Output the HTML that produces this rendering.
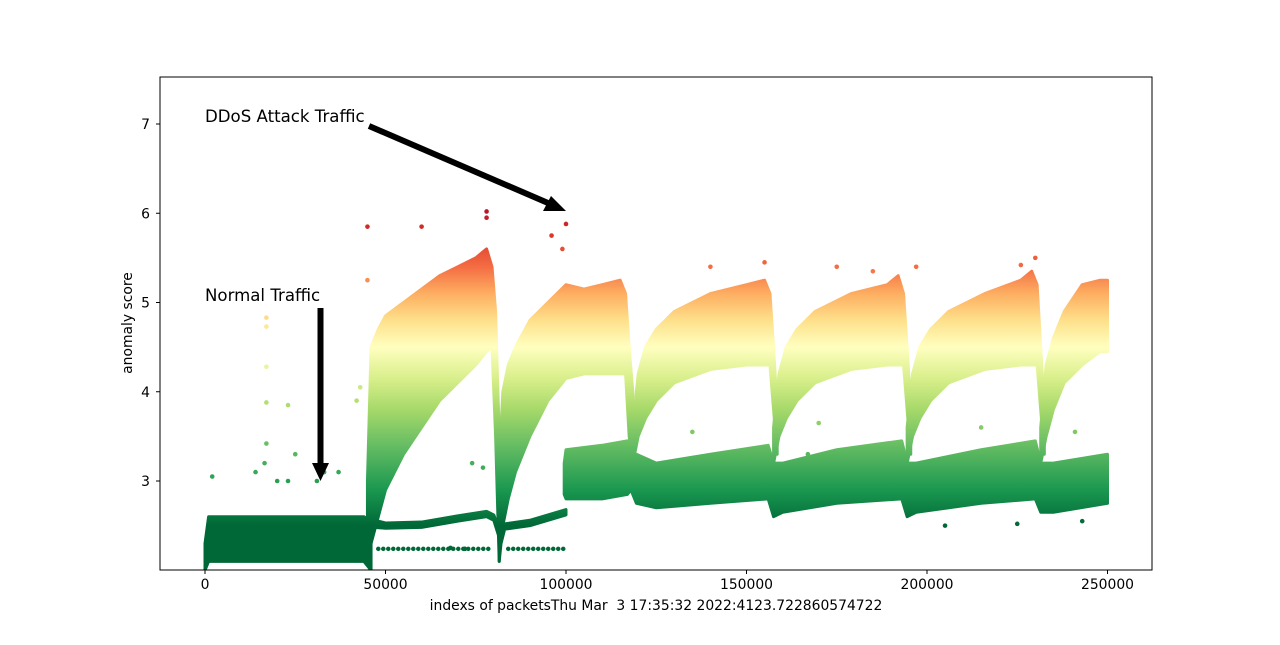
<!DOCTYPE html>
<html><head><meta charset="utf-8">
<style>
html,body{margin:0;padding:0;background:#fff;}
svg text{font-family:"DejaVu Sans","Liberation Sans",sans-serif;}
</style></head>
<body>
<svg id="chart" width="1280" height="640" xmlns="http://www.w3.org/2000/svg">
<defs>
<linearGradient id="cmap" gradientUnits="userSpaceOnUse" x1="0" x2="0" y1="0" y2="0"></linearGradient>
<clipPath id="plotclip"><rect x="160" y="77" width="992" height="493"/></clipPath>
</defs>
<g id="marks" clip-path="url(#plotclip)"></g>
<rect x="160" y="77" width="992" height="493" fill="none" stroke="#000" stroke-width="1"/>
<g id="axes"></g>
<text x="205" y="122" font-size="16.6">DDoS Attack Traffic</text>
<line x1="369" y1="126" x2="548" y2="203" stroke="#000" stroke-width="6"/>
<polygon points="566,211 543,211 551,196" fill="#000"/>
<text x="205" y="301" font-size="16.6">Normal Traffic</text>
<line x1="320.5" y1="308" x2="320.5" y2="465" stroke="#000" stroke-width="6"/>
<polygon points="312,463 329,463 320.5,481" fill="#000"/>
<text x="132" y="323" font-size="13.9" text-anchor="middle" transform="rotate(-90 132 323)">anomaly score</text>
<text x="656" y="610" font-size="13.9" text-anchor="middle" style="white-space:pre" xml:space="preserve">indexs of packetsThu Mar  3 17:35:32 2022:4123.722860574722</text>
</svg>
<script>
const xTicks=[0,50000,100000,150000,200000,250000];
const yTicks=[3,4,5,6,7];
const normalX=[0,1000,5000,20000,44000,46000];
const normalHi=[2.3,2.6,2.6,2.6,2.6,2.55];
const normalLo=[2.0,2.1,2.1,2.1,2.1,2.0];
const att1X=[45000,46000,48000,50000,55000,60000,65000,70000,75000,78000,79500,80500,81500];
const att1Hi=[3.0,4.5,4.7,4.85,5.0,5.15,5.3,5.4,5.5,5.6,5.4,4.9,3.5];
const att1Lo=[2.1,2.3,2.6,2.9,3.3,3.6,3.9,4.1,4.3,4.45,4.5,3.5,2.1];
const att2X=[81500,82500,84000,86000,90000,95000,100000,105000,110000,115000,116500,117500,118500];
const att2Hi=[3.2,4.0,4.3,4.5,4.8,5.0,5.2,5.15,5.2,5.25,5.1,4.5,4.0];
const att2Lo=[2.1,2.5,2.8,3.1,3.5,3.9,4.15,4.2,4.2,4.2,4.2,3.5,3.2];
const att3X=[118500,120000,122000,125000,130000,140000,150000,155000,156500,157500,158500];
const att3Hi=[3.6,4.2,4.5,4.7,4.9,5.1,5.2,5.25,5.1,4.5,3.8];
const att3Lo=[3.2,3.5,3.7,3.9,4.1,4.25,4.3,4.3,4.3,3.8,3.3];
const att4X=[157500,159000,161000,164000,169000,179000,189000,192000,193500,194500,195500];
const att4Hi=[3.6,4.2,4.5,4.7,4.9,5.1,5.2,5.3,5.1,4.5,3.8];
const att4Lo=[3.2,3.5,3.7,3.9,4.1,4.25,4.3,4.3,4.3,3.8,3.3];
const att5X=[194500,196000,198000,201000,206000,216000,226000,229000,230500,231500,232500];
const att5Hi=[3.6,4.2,4.5,4.7,4.9,5.1,5.25,5.35,5.2,4.5,3.8];
const att5Lo=[3.2,3.5,3.7,3.9,4.1,4.25,4.3,4.3,4.3,3.8,3.3];
const att6X=[231500,233000,235000,238000,243000,248000,250000];
const att6Hi=[3.6,4.3,4.6,4.9,5.2,5.25,5.25];
const att6Lo=[3.2,3.5,3.8,4.1,4.3,4.45,4.45];
const greenX=[99500,100000,110000,117000,118000,119500,125000,140000,156000,157500,160000,175000,193000,194500,197000,215000,230000,231500,235000,250000];
const greenHi=[3.2,3.35,3.4,3.45,3.3,3.3,3.2,3.3,3.4,3.2,3.2,3.35,3.45,3.2,3.2,3.35,3.45,3.2,3.2,3.3];
const greenLo=[2.85,2.8,2.8,2.85,2.9,2.75,2.7,2.75,2.8,2.6,2.65,2.75,2.8,2.6,2.65,2.75,2.8,2.65,2.65,2.75];
const lineX=[47000,50000,60000,70000,78000,80000,82000,83000,90000,100000];
const lineHi=[2.56,2.53,2.54,2.61,2.66,2.62,2.4,2.52,2.56,2.68];
const lineLo=[2.48,2.47,2.48,2.55,2.6,2.56,2.3,2.46,2.5,2.62];
const dotRowX=[[48000,79000],[84000,100000]];
const dotRowY=[2.24,2.24];
const outX=[17000,17000,17000,17000,17000,16500,23000,23000,2000,45000,45000,60000,78000,78000,96000,100000,99000,74000,77000,135000,170000,167000,215000,241000,205000,225000,243000,100000,42000,43000,37000,155000,230000,197000,175000,140000,226000,185000,14000,20000,25000,31000,33000,68000,72000];
const outY=[4.83,4.73,4.28,3.88,3.42,3.2,3.85,3.0,3.05,5.85,5.25,5.85,6.02,5.95,5.75,5.88,5.6,3.2,3.15,3.55,3.65,3.3,3.6,3.55,2.5,2.52,2.55,3.08,3.9,4.05,3.1,5.45,5.5,5.4,5.4,5.4,5.42,5.35,3.1,3.0,3.3,3.0,3.1,2.25,2.24];

const X0=205,XS=(566-205)/100000,Y0=481,YS=89.25;
function px(v){return X0+v*XS;}
function py(v){return Y0-(v-3)*YS;}
const NS='http://www.w3.org/2000/svg';
const stops=['#006837','#1a9850','#66bd63','#a6d96a','#d9ef8b','#ffffbf','#fee08b','#fdae61','#f46d43','#d73027','#a50026'];
const stopScores=[2.5,2.9,3.4,3.8,4.15,4.5,4.8,5.1,5.4,5.8,6.2];
const CMIN=stopScores[0],CMAX=stopScores[stopScores.length-1];
const g=document.getElementById('cmap');
g.setAttribute('y1',py(CMIN));g.setAttribute('y2',py(CMAX));
stops.forEach((c,i)=>{const s=document.createElementNS(NS,'stop');s.setAttribute('offset',(stopScores[i]-CMIN)/(CMAX-CMIN));s.setAttribute('stop-color',c);g.appendChild(s);});
function hex(c){return [1,3,5].map(i=>parseInt(c.substr(i,2),16));}
function colorAt(v){
  if(v<=CMIN)return stops[0]; if(v>=CMAX)return stops[stops.length-1];
  let i=0;while(stopScores[i+1]<v)i++;
  const f=(v-stopScores[i])/(stopScores[i+1]-stopScores[i]);
  const a=hex(stops[i]),b=hex(stops[i+1]);
  return 'rgb('+a.map((x,k)=>Math.round(x+(b[k]-x)*f)).join(',')+')';
}
const marks=document.getElementById('marks');
function band(xs,hi,lo,name){
  let pts=xs.map((x,i)=>px(x)+','+py(hi[i]));
  for(let i=xs.length-1;i>=0;i--)pts.push(px(xs[i])+','+py(lo[i]));
  const p=document.createElementNS(NS,'polygon');
  p.setAttribute('points',pts.join(' '));
  p.setAttribute('fill','url(#cmap)');
  p.setAttribute('stroke','url(#cmap)');p.setAttribute('stroke-width','3');p.setAttribute('stroke-linejoin','round');
  
  
  marks.appendChild(p);
}
band(normalX,normalHi,normalLo,'normal-traffic-band');
band(greenX,greenHi,greenLo,'green-baseline-band');
band(att1X,att1Hi,att1Lo,'attack-segment-1');
band(att2X,att2Hi,att2Lo,'attack-segment-2');
band(att3X,att3Hi,att3Lo,'attack-segment-3');
band(att4X,att4Hi,att4Lo,'attack-segment-4');
band(att5X,att5Hi,att5Lo,'attack-segment-5');
band(att6X,att6Hi,att6Lo,'attack-segment-6');
band(lineX,lineHi,lineLo,'low-score-trail');
dotRowX.forEach((r,i)=>{
  const l=document.createElementNS(NS,'line');
  l.setAttribute('x1',px(r[0]));l.setAttribute('x2',px(r[1]));
  l.setAttribute('y1',py(dotRowY[i]));l.setAttribute('y2',py(dotRowY[i]));
  l.setAttribute('stroke',colorAt(dotRowY[i]));l.setAttribute('stroke-width','4.5');
  l.setAttribute('stroke-dasharray','0 5');l.setAttribute('stroke-linecap','round');
  
  
  marks.appendChild(l);
});
outX.forEach((x,i)=>{
  const c=document.createElementNS(NS,'circle');
  c.setAttribute('cx',px(x));c.setAttribute('cy',py(outY[i]));c.setAttribute('r','2.3');
  c.setAttribute('fill',colorAt(outY[i]));
  
  
  marks.appendChild(c);
});
const axes=document.getElementById('axes');
xTicks.forEach(v=>{
  const l=document.createElementNS(NS,'line');
  l.setAttribute('x1',px(v));l.setAttribute('x2',px(v));l.setAttribute('y1',570);l.setAttribute('y2',574);l.setAttribute('stroke','#000');
  
  
  axes.appendChild(l);
  const t=document.createElementNS(NS,'text');
  t.setAttribute('x',px(v));t.setAttribute('y',589);t.setAttribute('font-size','13.9');t.setAttribute('text-anchor','middle');t.textContent=v;
  
  
  axes.appendChild(t);
});
yTicks.forEach(v=>{
  const l=document.createElementNS(NS,'line');
  l.setAttribute('x1',156);l.setAttribute('x2',160);l.setAttribute('y1',py(v));l.setAttribute('y2',py(v));l.setAttribute('stroke','#000');
  
  
  axes.appendChild(l);
  const t=document.createElementNS(NS,'text');
  t.setAttribute('x',150);t.setAttribute('y',py(v)+5);t.setAttribute('font-size','13.9');t.setAttribute('text-anchor','end');t.textContent=v;
  
  
  axes.appendChild(t);
});
</script>
</body></html>
